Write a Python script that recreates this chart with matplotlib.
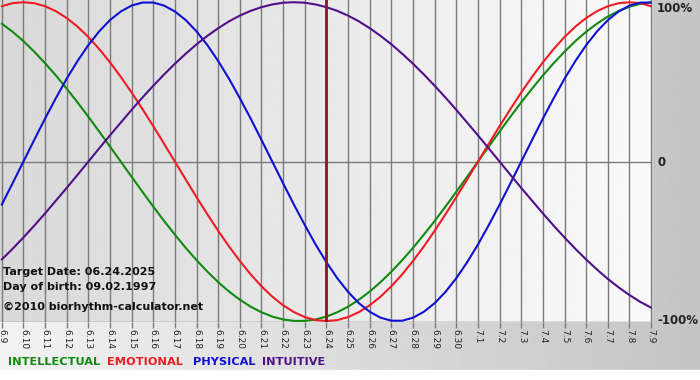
import matplotlib
matplotlib.use("Agg")
import matplotlib.pyplot as plt
import numpy as np

# Days shown on the chart (6.9 -> 7.9)
dias = ["6.%d" % d for d in range(9, 31)] + ["7.%d" % d for d in range(1, 10)]

# Values in percent, read every half day from the chart (6.9 .. 7.9)
intelectual = [86.6, 81.5, 75.6, 69.0, 61.8, 54.1, 45.8, 37.2, 28.2, 18.9, 9.5, 0,
               -9.5, -18.9, -28.2, -37.2, -45.8, -54.1, -61.8, -69.0, -75.6, -81.5,
               -86.6, -91.0, -94.5, -97.2, -99.0, -99.9, -99.9, -99.0, -97.2, -94.5,
               -91.0, -86.6, -81.5, -75.6, -69.0, -61.8, -54.1, -45.8, -37.2, -28.2,
               -18.9, -9.5, 0, 9.5, 18.9, 28.2, 37.2, 45.8, 54.1, 61.8, 69.0, 75.6,
               81.5, 86.6, 91.0, 94.5, 97.2, 99.0, 99.9]
emocional = [97.5, 99.4, 100, 99.4, 97.5, 94.4, 90.1, 84.7, 78.2, 70.7, 62.3, 53.2,
             43.4, 33.0, 22.3, 11.2, 0, -11.2, -22.3, -33.0, -43.4, -53.2, -62.3,
             -70.7, -78.2, -84.7, -90.1, -94.4, -97.5, -99.4, -100, -99.4, -97.5,
             -94.4, -90.1, -84.7, -78.2, -70.7, -62.3, -53.2, -43.4, -33.0, -22.3,
             -11.2, 0, 11.2, 22.3, 33.0, 43.4, 53.2, 62.3, 70.7, 78.2, 84.7, 90.1,
             94.4, 97.5, 99.4, 100, 99.4, 97.5]
fisico = [-27.0, -13.6, 0, 13.6, 27.0, 39.8, 52.0, 63.1, 73.1, 81.7, 88.8, 94.2,
          97.9, 99.8, 99.8, 97.9, 94.2, 88.8, 81.7, 73.1, 63.1, 52.0, 39.8, 27.0,
          13.6, 0, -13.6, -27.0, -39.8, -52.0, -63.1, -73.1, -81.7, -88.8, -94.2,
          -97.9, -99.8, -99.8, -97.9, -94.2, -88.8, -81.7, -73.1, -63.1, -52.0,
          -39.8, -27.0, -13.6, 0, 13.6, 27.0, 39.8, 52.0, 63.1, 73.1, 81.7, 88.8,
          94.2, 97.9, 99.8, 99.8]
intuitivo = [-61.4, -54.7, -47.6, -40.2, -32.5, -24.5, -16.5, -8.3, 0, 8.3, 16.5,
             24.5, 32.5, 40.2, 47.6, 54.7, 61.4, 67.7, 73.6, 78.9, 83.7, 88.0, 91.6,
             94.6, 96.9, 98.6, 99.7, 100, 99.7, 98.6, 96.9, 94.6, 91.6, 88.0, 83.7,
             78.9, 73.6, 67.7, 61.4, 54.7, 47.6, 40.2, 32.5, 24.5, 16.5, 8.3, 0,
             -8.3, -16.5, -24.5, -32.5, -40.2, -47.6, -54.7, -61.4, -67.7, -73.6,
             -78.9, -83.7, -88.0, -91.6]

dia_alvo = "6.24"
series = [("INTELLECTUAL", intelectual, "#108a10", 8),
          ("EMOTIONAL", emocional, "#ee1c24", 107),
          ("PHYSICAL", fisico, "#1010d0", 193),
          ("INTUITIVE", intuitivo, "#50108a", 262)]

W, H = 700, 380
fig = plt.figure(figsize=(W / 100, H / 100), dpi=100)

# fundo da figura (gradiente cinza)
bg = fig.add_axes([0, 0, 1, 1], zorder=0)
grad = np.linspace(0.95, 0.77, 256).reshape(1, -1)
bg.imshow(grad, cmap="gray", vmin=0, vmax=1, aspect="auto", extent=[0, 1, 10 / H, 1])
bg.axhspan(0, 10 / H, color="white")
bg.set_xlim(0, 1)
bg.set_ylim(0, 1)
bg.axis("off")

# area do grafico
x0, x1 = 0, 652
y0, y1 = 0, 322
ax = fig.add_axes([x0 / W, 1 - y1 / H, (x1 - x0) / W, (y1 - y0) / H], zorder=1)
xs = np.arange(len(dias))
x_meio = np.arange(len(fisico)) / 2
ax.set_xlim(-0.08, 30.04)
ax.set_ylim(-100.6, 101.4)
grad2 = np.linspace(0.85, 0.98, 256).reshape(1, -1)
ax.imshow(grad2, cmap="gray", vmin=0, vmax=1, aspect="auto",
          extent=[-0.08, 30.04, -100.6, 101.4], zorder=0)

for x in xs:
    ax.axvline(x, color="#7a7a7a", lw=1, zorder=1)
ax.axhline(0, color="#7a7a7a", lw=1, zorder=1)
ax.axhline(-100.3, color="#7a7a7a", lw=1, zorder=1)
ax.axvline(dias.index(dia_alvo), color="#7a1f1f", lw=2, zorder=3)

for nome, vals, cor, lx in series:
    ax.plot(x_meio, vals, color=cor, lw=1.5, zorder=2, solid_capstyle="round",
            solid_joinstyle="round")

for s in ax.spines.values():
    s.set_visible(False)
ax.set_xticks(xs)
ax.set_xticklabels(dias, rotation=-90, fontsize=6.5, color="#222222")
ax.tick_params(axis="x", length=4, width=1, color="#7a7a7a", pad=1)
ax.set_yticks([])

# rotulos a direita
for yp, txt in [(8, "100%"), (162, "0"), (321, "-100%")]:
    fig.text(657 / W, 1 - yp / H, txt, fontsize=8.5, fontweight="bold",
             color="#222222", va="center", ha="left", zorder=5)

# textos de data
info = [("Target Date: 06.24.2025", 272), ("Day of birth: 09.02.1997", 287),
        ("\u00a92010 biorhythm-calculator.net", 307)]
for txt, yp in info:
    fig.text(3 / W, 1 - yp / H, txt, fontsize=8, fontweight="bold",
             color="#111111", va="center", ha="left", zorder=5)

# legenda colorida
for nome, vals, cor, lx in series:
    fig.text(lx / W, 1 - 362 / H, nome, fontsize=8.2, fontweight="bold",
             color=cor, va="center", ha="left", zorder=5)

fig.savefig("out.png", dpi=100)
